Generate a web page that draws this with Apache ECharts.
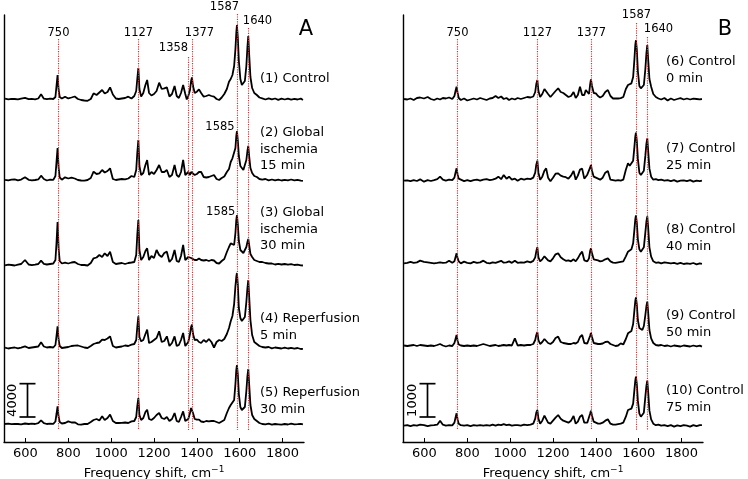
<!DOCTYPE html>
<html><head><meta charset="utf-8">
<script src="https://cdn.jsdelivr.net/npm/echarts@6/dist/echarts.min.js"></script>
<style>html,body{margin:0;padding:0;background:#fff}#c{width:748px;height:479px}</style>
</head><body><div id="c"></div>
<script>
// Raman shift grid (cm^-1), shared by all spectra
const shift = [
505,520,535,550,565,580,598,615,630,645,
660,673,686,700,715,730,740,745,750,755,
760,770,785,800,815,830,845,860,875,890,
905,918,932,945,958,970,983,995,1008,1022,
1035,1050,1065,1080,1095,1108,1117,1122,1127,1132,
1140,1150,1160,1168,1177,1188,1200,1212,1224,1236,
1248,1260,1272,1284,1296,1306,1316,1326,1336,1346,
1353,1360,1368,1373,1377,1382,1390,1400,1410,1420,
1432,1444,1456,1468,1480,1492,1504,1516,1528,1540,
1550,1558,1566,1574,1580,1584,1587,1591,1596,1603,
1610,1617,1624,1631,1636,1640,1644,1650,1658,1668,
1680,1692,1705,1720,1735,1750,1765,1780,1795,1810,
1825,1840,1855,1870,1885,1895];
const xTicks = [600,800,1000,1200,1400,1600,1800];

// Panel A intensities (counts above each spectrum's baseline)
const specA1 = [
40,-40,20,0,-50,40,140,-20,10,-40,
60,560,40,-20,50,0,240,1560,2880,1080,
240,60,280,70,180,300,0,-120,-180,-220,
0,680,480,780,1080,660,840,1400,540,60,
0,60,120,280,60,360,960,2400,3720,1200,
280,720,1680,2280,720,420,600,960,1960,1200,
1280,1400,300,600,1560,360,120,720,1680,600,
-60,360,1080,2160,2600,1560,720,880,1160,720,
280,360,480,360,280,0,-120,180,600,1200,
2080,2400,2880,3960,6000,7920,8880,7440,4560,2400,
1680,1480,2160,3960,6240,7560,5400,2640,1320,720,
480,180,80,-60,70,-50,60,-100,40,-60,
50,-70,20,-60,50,-120];
const specA2 = [
20,-50,40,70,-40,50,320,20,-50,0,
70,520,120,-60,40,20,480,2160,3840,1440,
300,40,320,180,280,180,0,-60,-80,0,
240,1000,720,800,1200,900,1080,1400,120,0,
60,120,70,180,480,360,1200,3240,4800,1680,
600,840,1800,2400,600,960,720,1200,1800,960,
960,1200,360,600,1800,600,360,960,2400,600,
480,960,600,960,1200,840,600,720,960,960,
360,300,360,480,600,120,0,240,420,960,
1320,2160,2600,2400,3840,5280,5880,4800,2880,1680,
1560,1200,1320,2400,3480,4080,2880,1440,840,480,
360,120,50,120,-40,60,-50,40,-60,20,
-50,60,-40,20,-70,-100];
const specA3 = [
-40,50,0,-60,40,120,600,60,-20,40,
120,520,140,60,120,180,600,2640,5160,1920,
480,180,280,180,300,360,120,0,0,-60,
240,800,900,1200,960,1400,1080,1600,360,120,
180,240,120,240,300,360,1200,3600,5400,1800,
600,960,1680,2000,600,1080,840,1800,1200,960,
1440,1600,360,720,1800,480,360,1080,2400,600,
480,960,720,840,780,720,600,600,780,600,
540,600,480,600,540,240,180,480,720,1560,
2160,2600,2520,2400,3840,5400,6000,4920,2880,1800,
1680,1440,1560,2160,2760,3120,2400,1320,960,600,
480,360,360,240,180,180,60,140,60,120,
40,100,0,50,-40,-60];
const specA4 = [
40,-60,20,60,-40,50,200,0,60,120,
180,680,180,60,120,60,360,1440,2600,960,
240,0,60,120,240,280,300,180,60,0,
240,480,600,660,1000,960,1140,1400,240,60,
120,180,300,240,400,480,960,2520,3800,1320,
800,960,1680,2200,600,720,960,1200,2000,720,
840,1400,240,600,1400,240,360,960,1800,240,
120,720,1680,2520,2800,1680,960,1000,720,600,
960,720,1080,720,60,720,960,840,1080,1680,
2400,3200,3840,5280,7440,8520,9000,7680,4800,3600,
3240,3200,3720,5520,7200,8160,6240,3360,1560,720,
480,240,120,60,120,-40,60,0,-60,40,
-60,20,-70,0,-120,-100];
const specA5 = [
0,40,-20,20,0,-40,60,0,40,0,
100,440,100,0,40,20,300,1200,2120,840,
240,60,120,320,180,200,-40,-70,0,0,
240,480,600,420,920,480,720,1120,360,120,
120,140,180,120,320,360,840,2160,3120,1080,
480,720,1440,1720,600,480,720,1080,1320,720,
600,840,360,600,1320,360,240,840,1520,360,
120,600,1320,1920,2120,1320,600,520,520,300,
240,360,320,360,360,240,120,300,480,1320,
1920,2280,2280,2880,4800,6480,7080,6000,3600,2040,
1680,1560,2040,3960,5760,6600,4800,2280,1080,600,
360,120,0,-50,40,-70,0,-40,-80,0,
-60,40,-50,-20,20,-40];

// Panel B intensities
const specB6 = [
0,-15,15,-30,30,45,15,60,0,-30,
15,-15,30,15,45,0,90,240,370,180,
30,-30,15,-45,-15,15,-15,30,0,-30,
15,30,90,30,75,0,30,-30,15,-15,
30,0,30,60,45,75,210,450,570,240,
60,150,300,350,150,60,150,240,320,210,
180,120,60,90,210,30,120,370,120,120,
270,210,150,420,590,390,180,170,90,45,
90,210,270,90,15,15,15,25,60,300,
420,450,470,660,1200,1620,1770,1500,840,390,
320,330,420,900,1380,1620,1200,600,370,150,
60,15,-15,30,-45,15,-30,0,25,-15,
15,-15,10,0,-10,0];
const specB7 = [
0,10,-15,15,-10,40,-30,15,-10,15,
45,120,30,0,30,15,90,240,370,180,
60,30,-15,15,-15,15,30,0,30,45,
15,30,60,120,45,170,60,120,30,60,
0,60,30,60,45,90,240,480,600,240,
30,120,300,370,90,-15,90,210,220,150,
120,105,60,150,290,30,150,330,360,60,
120,180,210,390,470,300,120,90,60,30,
90,240,290,30,15,0,15,0,30,330,
520,450,480,600,1020,1320,1440,1200,660,240,
170,180,300,750,1110,1270,900,360,120,30,
45,15,30,0,15,-15,15,-30,0,10,
-15,15,-30,0,-15,0];
const specB8 = [
0,15,45,15,30,80,45,30,15,0,
15,30,15,20,80,15,60,180,300,150,
60,0,50,15,0,45,15,30,80,15,
0,30,15,45,75,20,30,60,15,80,
15,30,20,60,30,75,180,360,480,180,
60,120,210,250,90,60,150,270,300,180,
120,75,90,60,120,60,150,270,350,90,
90,60,150,360,450,300,120,105,90,60,
75,120,150,60,20,15,30,45,60,210,
350,375,420,600,1020,1320,1440,1230,720,420,
350,360,480,930,1260,1410,1080,480,200,60,
15,30,0,30,15,0,15,-15,15,-20,
0,-15,10,-30,0,-15];
const specB9 = [
15,0,15,30,0,30,15,0,15,0,
30,60,15,-15,15,0,90,210,330,150,
45,15,0,15,0,15,0,30,60,30,
0,15,30,0,15,30,15,30,15,230,
15,30,15,30,30,60,180,330,420,180,
60,120,210,260,90,60,120,240,280,120,
90,75,60,60,90,75,120,270,330,90,
60,75,120,300,390,270,90,75,60,60,
75,120,130,60,30,0,15,80,45,210,
380,390,450,660,1080,1350,1460,1260,780,540,
480,480,600,930,1200,1330,1020,480,230,90,
30,15,30,0,15,-15,15,0,-15,15,
0,-15,15,-10,10,-20];
const specB10 = [
0,15,-15,15,0,30,15,-15,10,15,
30,150,30,0,15,10,90,240,370,180,
60,15,0,15,-15,15,0,15,0,15,
0,30,0,30,15,45,15,30,0,15,
15,0,30,15,30,60,210,390,470,210,
60,150,300,350,90,60,150,240,320,210,
150,120,90,150,290,60,120,270,320,90,
90,90,150,360,450,300,120,90,60,60,
90,150,190,60,30,30,45,60,90,270,
470,510,510,660,1080,1350,1470,1260,750,360,
270,270,390,870,1200,1350,1020,450,190,60,
15,30,0,15,-15,15,-30,10,-15,15,
0,-30,15,-15,15,15];

// vertical offsets of the stacked spectra (counts)
const offsetsA = [41160, 31440, 21240, 11280, 2160];
const offsetsB = [10290, 7840, 5360, 2880, 490];
const peaksA = [750, 1127, 1358, 1377, 1587, 1640];
const peaksB = [750, 1127, 1377, 1587, 1640];
const labelsA = ['(1) Control', '(2) Global\nischemia\n15 min', '(3) Global\nischemia\n30 min', '(4) Reperfusion\n5 min', '(5) Reperfusion\n30 min'];
const labelsB = ['(6) Control\n0 min', '(7) Control\n25 min', '(8) Control\n40 min', '(9) Control\n50 min', '(10) Control\n75 min'];
const scaleBarA = 4000, scaleBarB = 1000;
const shiftedPeakLabel = '1585';

// ---------- layout / style ----------
const FONT = 'DejaVu Sans';
const GRID_TOP = 15, GRID_H = 427;
const specsA = [specA1, specA2, specA3, specA4, specA5];
const specsB = [specB6, specB7, specB8, specB9, specB10];

const peakLayoutA = [
  {top: 39, ty: 33, dx: 0}, {top: 39, ty: 33, dx: 0}, {top: 57, ty: 48, dx: -15},
  {top: 39, ty: 33, dx: 7}, {top: 14, ty: 7, dx: -13}, {top: 28, ty: 21, dx: 9}];
const peakLayoutB = [
  {top: 39, ty: 33, dx: 0}, {top: 39, ty: 33, dx: 0}, {top: 39, ty: 33, dx: 0},
  {top: 23, ty: 15, dx: 0}, {top: 37, ty: 29, dx: 11}];

function xAxisCfg(gi) {
  return {
    gridIndex: gi, type: 'value', min: 500, max: 1900,
    name: 'Frequency shift, cm{sup|−1}', nameLocation: 'middle', nameGap: 18,
    nameTextStyle: {fontFamily: FONT, fontSize: 13, color: '#000',
      rich: {sup: {fontFamily: FONT, fontSize: 9, color: '#000', padding: [0, 0, 8, 0]}}},
    axisLine: {show: true, onZero: false, lineStyle: {color: '#000', width: 1.4}},
    axisTick: {show: true, inside: true, length: 4, customValues: xTicks, lineStyle: {color: '#000', width: 1}},
    axisLabel: {show: true, margin: 5, customValues: xTicks, formatter: v => String(v),
      fontFamily: FONT, fontSize: 13, color: '#000'},
    splitLine: {show: false}
  };
}
function yAxisCfg(gi, max) {
  return {
    gridIndex: gi, type: 'value', min: 0, max: max,
    axisLine: {show: true, lineStyle: {color: '#000', width: 1.4}},
    axisTick: {show: false}, axisLabel: {show: false}, splitLine: {show: false}
  };
}
function spectrumSeries(gi, spec, off) {
  return {
    type: 'line', xAxisIndex: gi, yAxisIndex: gi, showSymbol: false, silent: true,
    animation: false, smooth: false, z: 3,
    lineStyle: {color: '#000', width: 1.8},
    data: shift.map((x, i) => [x, spec[i] + off])
  };
}
function peakSeries(gi, peaks, layout, bottomPx) {
  return {
    type: 'custom', xAxisIndex: gi, yAxisIndex: gi, z: 6, silent: true, animation: false, clip: false,
    data: peaks.map(p => [p, 0]),
    renderItem(params, api) {
      const i = params.dataIndex;
      const x = Math.round(api.coord([api.value(0), 0])[0]) + 0.5;
      const L = layout[i];
      return {type: 'group', children: [
        {type: 'line', shape: {x1: x, y1: L.top, x2: x, y2: bottomPx},
          style: {stroke: '#e8282b', lineWidth: 1.1, lineDash: [1.2, 1.2]}},
        {type: 'text', style: {text: String(peaks[i]), x: x + L.dx, y: L.ty, align: 'center',
          verticalAlign: 'middle', font: '11.5px ' + FONT, fill: '#000'}}
      ]};
    }
  };
}
function scaleSeries(gi, value, xPos, yBase) {
  return {
    type: 'custom', xAxisIndex: gi, yAxisIndex: gi, z: 6, silent: true, animation: false, clip: false,
    data: [[xPos, yBase, value]],
    renderItem(params, api) {
      const p0 = api.coord([api.value(0), api.value(1)]);
      const p1 = api.coord([api.value(0), api.value(1) + api.value(2)]);
      const x = Math.round(p0[0]) + 0.5, hw = 8;
      const st = {stroke: '#000', lineWidth: 1.7};
      return {type: 'group', children: [
        {type: 'line', shape: {x1: x, y1: p0[1], x2: x, y2: p1[1]}, style: st},
        {type: 'line', shape: {x1: x - hw, y1: p0[1], x2: x + hw, y2: p0[1]}, style: st},
        {type: 'line', shape: {x1: x - hw, y1: p1[1], x2: x + hw, y2: p1[1]}, style: st},
        {type: 'text', x: x - 15, y: (p0[1] + p1[1]) / 2, rotation: Math.PI / 2,
          style: {text: String(api.value(2)), x: 0, y: 0, align: 'center', verticalAlign: 'middle',
            font: '13px ' + FONT, fill: '#000'}}
      ]};
    }
  };
}

const series = [];
specsA.forEach((s, k) => series.push(spectrumSeries(0, s, offsetsA[k])));
specsB.forEach((s, k) => series.push(spectrumSeries(1, s, offsetsB[k])));
series.push(peakSeries(0, peaksA, peakLayoutA, 430));
series.push(peakSeries(1, peaksB, peakLayoutB, 430));
series.push(scaleSeries(0, scaleBarA, 607, 3000));
series.push(scaleSeries(1, scaleBarB, 611, 750));

const labelTopsA = [70.5, 124.5, 204.5, 310.5, 384.5];
const labelTopsB = [53.5, 140.5, 221.5, 307.5, 382.5];
const graphics = [];
labelsA.forEach((t, k) => graphics.push({type: 'text', left: 260, top: labelTopsA[k], silent: true,
  style: {text: t, font: '13px ' + FONT, fill: '#000', lineHeight: 16.5}}));
labelsB.forEach((t, k) => graphics.push({type: 'text', left: 666, top: labelTopsB[k], silent: true,
  style: {text: t, font: '13px ' + FONT, fill: '#000', lineHeight: 16.5}}));
graphics.push({type: 'text', x: 220, y: 126.7, silent: true,
  style: {text: shiftedPeakLabel, font: '11.5px ' + FONT, fill: '#000', align: 'center', verticalAlign: 'middle'}});
graphics.push({type: 'text', x: 220.7, y: 211.7, silent: true,
  style: {text: shiftedPeakLabel, font: '11.5px ' + FONT, fill: '#000', align: 'center', verticalAlign: 'middle'}});
graphics.push({type: 'text', x: 306, y: 30, silent: true,
  style: {text: 'A', font: '21px ' + FONT, fill: '#000', align: 'center', verticalAlign: 'middle'}});
graphics.push({type: 'text', x: 725, y: 30, silent: true,
  style: {text: 'B', font: '21px ' + FONT, fill: '#000', align: 'center', verticalAlign: 'middle'}});

const chart = echarts.init(document.getElementById('c'), null, {renderer: 'canvas'});
chart.setOption({
  animation: false,
  backgroundColor: '#fff',
  grid: [
    {left: 4, top: GRID_TOP, width: 300, height: GRID_H, outerBoundsMode: 'none'},
    {left: 403, top: GRID_TOP, width: 300, height: GRID_H, outerBoundsMode: 'none'}
  ],
  xAxis: [xAxisCfg(0), xAxisCfg(1)],
  yAxis: [yAxisCfg(0, GRID_H * 120), yAxisCfg(1, GRID_H * 30)],
  series: series,
  graphic: graphics
});
</script></body></html>
